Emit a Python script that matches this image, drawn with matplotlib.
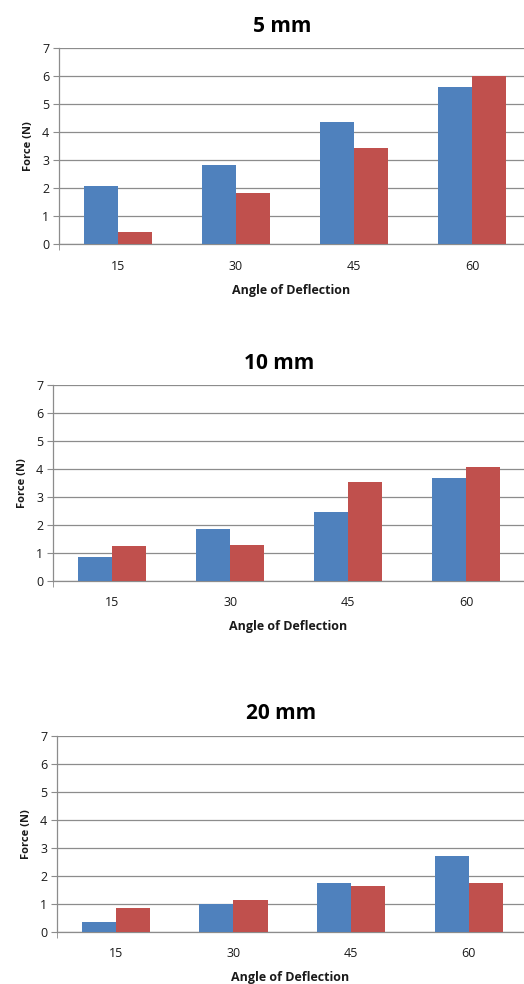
import matplotlib.pyplot as plt
import numpy as np

plt.rcParams["font.family"] = ["Open Sans", "DejaVu Sans"]

# ── data ──────────────────────────────────────────────────────────────────────

ANGLES = ["15", "30", "45", "60"]

TITLES = ["5 mm", "10 mm", "20 mm"]

BLUE_5  = [2.07, 2.82, 4.38, 5.62]
RED_5   = [0.43, 1.83, 3.44, 6.01]

BLUE_10 = [0.87, 1.86, 2.48, 3.68]
RED_10  = [1.24, 1.29, 3.55, 4.09]

BLUE_20 = [0.34, 1.01, 1.76, 2.71]
RED_20  = [0.86, 1.14, 1.63, 1.76]

# ── style ─────────────────────────────────────────────────────────────────────

BLUE  = "#4F81BD"
RED   = "#C0504D"
GRID  = "#8C8C8C"
TEXT  = "#1A1A1A"

W, H = 524, 984

# panel boxes in pixels: left, top(of 7), bottom(of 0), right xlim
PANELS = [
    (59, 48.3, 244.3, 3.44),
    (53, 385.3, 581.0, 3.49),
    (57, 736.0, 932.0, 3.47),
]


def style_ax(ax, title, xmax):
    ax.set_ylim(0, 7)
    ax.set_xlim(-0.5, xmax)
    ax.set_yticks(range(0, 8))
    ax.grid(axis="y", color=GRID, linewidth=0.9, zorder=0)
    ax.set_axisbelow(True)
    for s in ["top", "right"]:
        ax.spines[s].set_visible(False)
    for s in ["left", "bottom"]:
        ax.spines[s].set_color(GRID)
        ax.spines[s].set_linewidth(0.9)
    ax.tick_params(axis="y", direction="out", length=4, color=GRID,
                   labelsize=9, labelcolor=TEXT, pad=3)
    ax.tick_params(axis="x", length=0, labelsize=9, labelcolor=TEXT, pad=11)
    ax.set_xticks(np.arange(len(ANGLES)), minor=False)
    ax.set_xticklabels(ANGLES)
    ax.set_xticks([-0.5], minor=True)
    ax.tick_params(axis="x", which="minor", direction="out", length=4,
                   color=GRID)
    ax.set_xlabel("Angle of Deflection", fontsize=9, fontweight="bold",
                  color=TEXT, labelpad=8)
    ax.set_ylabel("Force (N)", fontsize=8, fontweight="bold",
                  color=TEXT, labelpad=6)
    ax.set_title(title, fontsize=15, fontweight="bold", color="black",
                 pad=12, x=(282 - 59) / (524 - 59))


def plot_panel(ax, blue, red):
    x = np.arange(len(ANGLES))
    width = 0.29
    ax.bar(x - width / 2, blue, width, color=BLUE, zorder=3)
    ax.bar(x + width / 2, red, width, color=RED, zorder=3)


# ── assemble ──────────────────────────────────────────────────────────────────

fig = plt.figure(figsize=(W / 100, H / 100), dpi=100)

data = [(BLUE_5, RED_5), (BLUE_10, RED_10), (BLUE_20, RED_20)]

for (left, top, bottom, xmax), title, (b, r) in zip(PANELS, TITLES, data):
    ax = fig.add_axes([left / W, 1 - bottom / H,
                       (W - left) / W, (bottom - top) / H])
    plot_panel(ax, b, r)
    style_ax(ax, title, xmax)

fig.savefig("out.png", dpi=100)
